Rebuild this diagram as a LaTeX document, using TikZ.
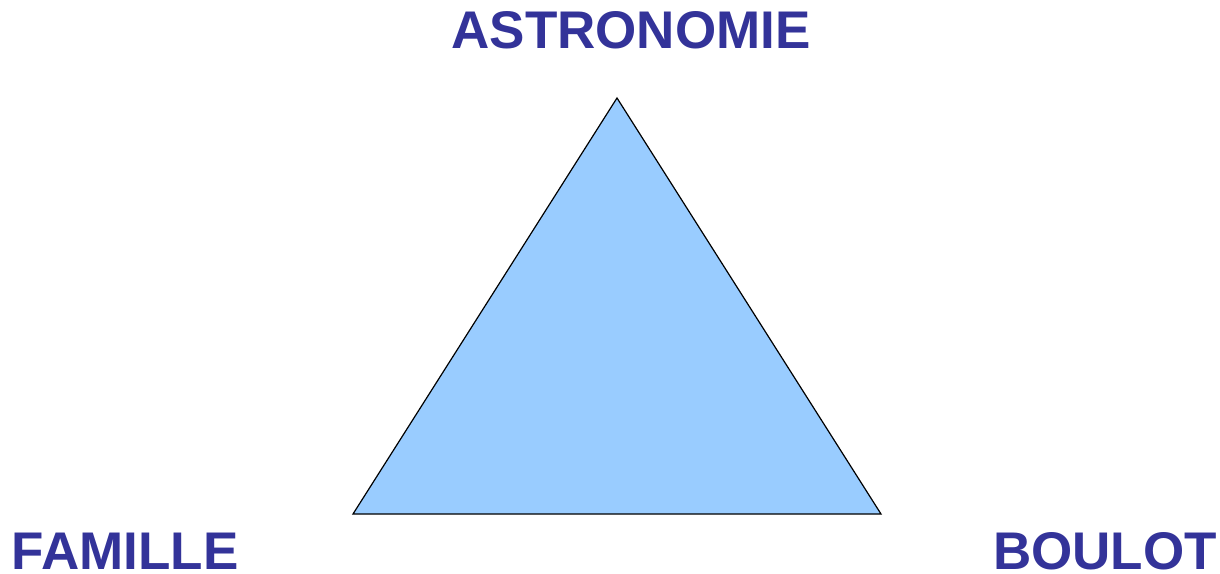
\documentclass[tikz,border=0pt]{standalone}
\usepackage{fontspec}
\setmainfont{Liberation Sans}
\definecolor{labelblue}{HTML}{333399}
\definecolor{trifill}{HTML}{99CCFF}
\begin{document}
\begin{tikzpicture}[x=1pt,y=1pt,
  label/.style={text=labelblue,font=\fontsize{53}{60}\selectfont\bfseries,inner sep=0pt,text depth=0pt,anchor=base}]
\useasboundingbox (0,0) rectangle (1220,573);
\coordinate (top) at (617,475);
\coordinate (bl) at (353,59);
\coordinate (br) at (881,59);
\draw[fill=trifill,line width=1.2pt,line join=miter] (top) -- (br) -- (bl) -- cycle;
\node[label] (astro) at (631,524) {ASTRONOMIE};
\node[label] (famille) at (125,4) {FAMILLE};
\node[label] (boulot) at (1105,4) {BOULOT};
\end{tikzpicture}
\end{document}
